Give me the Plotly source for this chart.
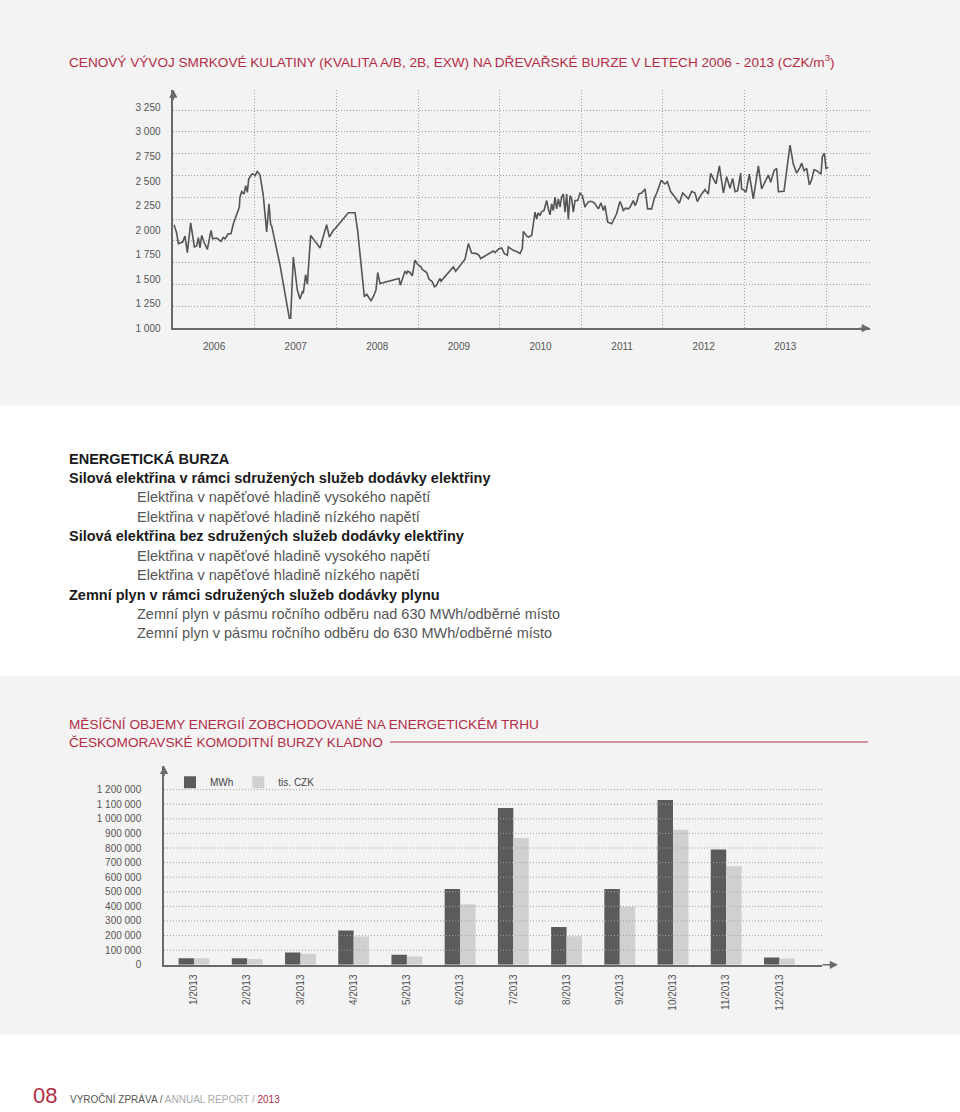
import plotly.graph_objects as go

W, H = 960, 1112

# ---------------- data: spruce roundwood price (CZK/m3) ----------------
wood_year = [
    2006.009, 2006.041, 2006.062, 2006.115, 2006.143, 2006.172, 2006.213, 2006.258, 2006.286, 2006.307,
    2006.327, 2006.348, 2006.376, 2006.417, 2006.462, 2006.483, 2006.532, 2006.560, 2006.585, 2006.613,
    2006.634, 2006.674, 2006.707, 2006.736, 2006.777, 2006.809, 2006.817, 2006.838, 2006.866, 2006.887,
    2006.907, 2006.924, 2006.960, 2006.981, 2007.001, 2007.030, 2007.063, 2007.103, 2007.144, 2007.173,
    2007.193, 2007.206, 2007.308, 2007.422, 2007.438, 2007.471, 2007.520, 2007.553, 2007.581, 2007.594,
    2007.622, 2007.643, 2007.683, 2007.798, 2007.879, 2007.912, 2007.961,
    2007.982, 2008.145, 2008.227, 2008.259, 2008.341, 2008.370, 2008.390, 2008.423, 2008.451, 2008.484,
    2008.505, 2008.533, 2008.766, 2008.782, 2008.839, 2008.860, 2008.872, 2008.901, 2008.929, 2008.962,
    2008.995, 2009.036, 2009.052, 2009.105, 2009.134, 2009.174, 2009.199, 2009.219, 2009.268, 2009.281,
    2009.432, 2009.460, 2009.575, 2009.616, 2009.656, 2009.718, 2009.746, 2009.767, 2009.922,
    2009.942, 2009.991, 2010.024, 2010.057, 2010.094, 2010.106, 2010.167, 2010.220, 2010.249, 2010.277,
    2010.290, 2010.331, 2010.351, 2010.392, 2010.433, 2010.453, 2010.473, 2010.494, 2010.514, 2010.543,
    2010.576, 2010.596, 2010.617, 2010.637, 2010.657, 2010.678, 2010.698, 2010.719, 2010.739, 2010.759,
    2010.780, 2010.800, 2010.821, 2010.841, 2010.862, 2010.882, 2010.902, 2010.923, 2010.956, 2010.984,
    2011.013, 2011.045, 2011.066, 2011.094, 2011.127, 2011.160, 2011.188, 2011.209, 2011.241, 2011.270,
    2011.290, 2011.323, 2011.372, 2011.405, 2011.433, 2011.454, 2011.474, 2011.495, 2011.515, 2011.544,
    2011.576, 2011.597, 2011.638, 2011.658, 2011.679, 2011.707, 2011.740, 2011.781, 2011.813, 2011.862,
    2011.895, 2011.924, 2011.952, 2011.977,
    2011.997, 2012.026, 2012.054, 2012.095, 2012.148, 2012.201, 2012.242, 2012.283, 2012.312, 2012.353,
    2012.393, 2012.422, 2012.475, 2012.516, 2012.557, 2012.585, 2012.618, 2012.651, 2012.692, 2012.741,
    2012.781, 2012.822, 2012.855, 2012.884, 2012.916, 2012.953, 2012.965, 2012.986, 2013.018, 2013.059,
    2013.108, 2013.170, 2013.210, 2013.263, 2013.292, 2013.321, 2013.362, 2013.394, 2013.415, 2013.484,
    2013.558, 2013.598, 2013.639, 2013.680, 2013.701, 2013.729, 2013.762, 2013.795, 2013.823, 2013.852,
    2013.884, 2013.938, 2013.954, 2013.979, 2013.999, 2014.027,
]
wood_price = [
    2055, 1970, 1862, 1878, 1939, 1770, 2074, 1828, 1838, 1922,
    1818, 1946, 1878, 1804, 1997, 1912, 1919, 1905, 1885, 1926,
    1912, 1963, 1963, 2064, 2166, 2233, 2335, 2392, 2368, 2453,
    2385, 2520, 2568, 2571, 2554, 2598, 2561, 2351, 1980, 2267,
    2054, 2041, 1642, 1102, 1102, 1726, 1389, 1297, 1372, 1365,
    1547, 1450, 1946, 1818, 2054, 1929, 1997,
    2014, 2176, 2176, 1997, 1321, 1345, 1321, 1281, 1321, 1389,
    1568, 1456, 1507, 1439, 1581, 1558, 1581, 1568, 1534, 1693,
    1649, 1625, 1598, 1568, 1500, 1473, 1423, 1429, 1507, 1480,
    1625, 1581, 1703, 1862, 1767, 1760, 1743, 1710, 1787,
    1770, 1811, 1818, 1760, 1743, 1828, 1794, 1777, 1760, 1811,
    1987, 1939, 1929, 1946, 2183, 2115, 2176, 2149, 2189, 2199,
    2301, 2216, 2156, 2267, 2199, 2335, 2216, 2318, 2233, 2335,
    2368, 2183, 2368, 2108, 2351, 2318, 2183, 2301, 2301, 2375,
    2351, 2233, 2267, 2291, 2291, 2277, 2233, 2216, 2277, 2199,
    2250, 2081, 2064, 2115, 2166, 2233, 2291, 2250, 2199, 2223,
    2216, 2233, 2301, 2250, 2284, 2368, 2378, 2419, 2216, 2216,
    2324, 2375, 2453, 2503,
    2493, 2470, 2493, 2392, 2335, 2274, 2378, 2345, 2318, 2395,
    2378, 2291, 2368, 2412, 2368, 2578, 2527, 2470, 2655, 2378,
    2544, 2426, 2527, 2392, 2402, 2581, 2419, 2412, 2385, 2571,
    2318, 2655, 2419, 2520, 2561, 2487, 2605, 2628, 2392, 2395,
    2865, 2672, 2581, 2639, 2682, 2605, 2628, 2460, 2514, 2615,
    2605, 2571, 2750, 2784, 2628, 2639,
]
year_labels = ["2006", "2007", "2008", "2009", "2010", "2011", "2012", "2013"]
price_ticks = [1000, 1250, 1500, 1750, 2000, 2250, 2500, 2750, 3000, 3250]

# ---------------- data: monthly volumes on the energy exchange ----------------
months = ["1/2013", "2/2013", "3/2013", "4/2013", "5/2013", "6/2013",
          "7/2013", "8/2013", "9/2013", "10/2013", "11/2013", "12/2013"]
mwh = [45000, 45000, 84000, 234000, 68000, 520000, 1075000, 259000, 520000, 1129000, 789000, 50000]
tis_czk = [45000, 40000, 75000, 193000, 57000, 414000, 868000, 196000, 397000, 925000, 675000, 43000]
volume_ticks = [0, 100000, 200000, 300000, 400000, 500000, 600000, 700000, 800000, 900000,
                1000000, 1100000, 1200000]

text_lines = [
    ("ENERGETICKÁ BURZA", True),
    ("Silová elektřina v rámci sdružených služeb dodávky elektřiny", True),
    ("Elektřina v napěťové hladině vysokého napětí", False),
    ("Elektřina v napěťové hladině nízkého napětí", False),
    ("Silová elektřina bez sdružených služeb dodávky elektřiny", True),
    ("Elektřina v napěťové hladině vysokého napětí", False),
    ("Elektřina v napěťové hladině nízkého napětí", False),
    ("Zemní plyn v rámci sdružených služeb dodávky plynu", True),
    ("Zemní plyn v pásmu ročního odběru nad 630 MWh/odběrné místo", False),
    ("Zemní plyn v pásmu ročního odběru do 630 MWh/odběrné místo", False),
]

# ---------------- styling ----------------
FONT = "Liberation Sans"
RED = "#b32d46"
GREY_BG = "#f3f3f3"
AXIS = "#6a6a6a"
GRID = "#a0a0a0"
TICK = "#555555"
DOT = "1px,2px"


def fx(px):
    return px / W


def fy(py):
    return 1 - py / H


fig = go.Figure()

fig.add_trace(go.Scatter(
    x=wood_year, y=wood_price, mode="lines",
    line=dict(color="#555555", width=1.6),
    xaxis="x", yaxis="y", showlegend=False, hoverinfo="skip"))

fig.add_trace(go.Bar(
    x=months, y=mwh, name="MWh", marker=dict(color="#5b5b5b", line=dict(width=0)),
    xaxis="x2", yaxis="y2"))
fig.add_trace(go.Bar(
    x=months, y=tis_czk, name="tis. CZK", marker=dict(color="#d0d0d0", line=dict(width=0)),
    xaxis="x2", yaxis="y2"))

px_per_year = 81.6
line_x_end = 2006 + (870 - 173.3) / px_per_year
units_per_px = 10.135
line_y_top = 1000 + (330 - 90) * units_per_px

fig.update_layout(
    width=W, height=H,
    margin=dict(l=0, r=0, t=0, b=0),
    paper_bgcolor="white", plot_bgcolor="rgba(0,0,0,0)",
    separators=", ",
    font=dict(family=FONT, color=TICK, size=10),
    barmode="group", bargap=0.42, bargroupgap=0,
    xaxis=dict(
        anchor="y",
        domain=[fx(173.3), fx(870)], range=[2006, line_x_end],
        tickmode="array", tickvals=[int(y) + 0.5 for y in year_labels], ticktext=year_labels,
        ticks="", showgrid=False, zeroline=False,
        showline=True, linecolor=AXIS, linewidth=1.5,
        tickfont=dict(size=10, color=TICK), ticklabelstandoff=8,
        minor=dict(tickmode="linear", tick0=2006, dtick=1, showgrid=True,
                   gridcolor=GRID, griddash=DOT, gridwidth=1, ticks=""),
        fixedrange=True,
    ),
    yaxis=dict(
        anchor="x",
        domain=[fy(330), fy(90)], range=[1000, line_y_top],
        tickmode="array", tickvals=price_ticks, tickformat=",d",
        ticks="", showgrid=False, zeroline=False,
        showline=True, linecolor=AXIS, linewidth=1.5,
        tickfont=dict(size=10, color=TICK), ticklabelstandoff=9,
        minor=dict(tickmode="linear", tick0=1000, dtick=222.3, showgrid=True,
                   gridcolor=GRID, griddash=DOT, gridwidth=1, ticks=""),
        fixedrange=True,
    ),
    xaxis2=dict(
        anchor="y2",
        domain=[fx(164), fx(822)], range=[-0.564, 11.80], type="category",
        ticks="", showgrid=False, zeroline=False,
        showline=True, linecolor=AXIS, linewidth=1.5,
        tickangle=-90, tickfont=dict(size=10, color=TICK), ticklabelstandoff=4,
        fixedrange=True,
    ),
    yaxis2=dict(
        anchor="x2",
        domain=[fy(970), fy(770)], range=[0, 1363000],
        tickmode="array", tickvals=volume_ticks, tickformat=",d",
        ticks="", showgrid=False, zeroline=False,
        showline=True, linecolor=AXIS, linewidth=1.5,
        tickfont=dict(size=10, color=TICK), ticklabelstandoff=19,
        fixedrange=True,
    ),
    legend=dict(
        orientation="h", x=fx(170), y=fy(772), xanchor="left", yanchor="top",
        bgcolor="rgba(0,0,0,0)", font=dict(size=10, color="#444"),
        itemwidth=30, traceorder="normal",
    ),
)

shapes = [
    dict(type="rect", xref="paper", yref="paper", x0=0, x1=1, y0=fy(408), y1=1,
         fillcolor=GREY_BG, line=dict(width=0), layer="below"),
    dict(type="rect", xref="paper", yref="paper", x0=0, x1=1, y0=fy(1040), y1=fy(680),
         fillcolor=GREY_BG, line=dict(width=0), layer="below"),
    dict(type="line", xref="paper", yref="paper", x0=fx(390), x1=fx(868), y0=fy(746), y1=fy(746),
         line=dict(color=RED, width=1)),
]
# dotted gridlines of the bar chart drawn over the bars
for v in volume_ticks[1:]:
    shapes.append(dict(type="line", xref="x2 domain", yref="y2", x0=0, x1=1, y0=v, y1=v,
                       line=dict(color=GRID, width=1, dash=DOT), layer="above"))
fig.update_layout(shapes=shapes)

ann = []
# axis arrows
ann.append(dict(xref="x domain", yref="y domain", x=0, y=1, ax=0, ay=12, showarrow=True,
                arrowhead=2, arrowsize=1.1, arrowwidth=1.5, arrowcolor=AXIS, text=""))
ann.append(dict(xref="x domain", yref="y domain", x=1, y=0, ax=-12, ay=0, showarrow=True,
                arrowhead=2, arrowsize=1.1, arrowwidth=1.5, arrowcolor=AXIS, text=""))
ann.append(dict(xref="x2 domain", yref="y2 domain", x=0, y=1, ax=0, ay=12, showarrow=True,
                arrowhead=2, arrowsize=1.1, arrowwidth=1.5, arrowcolor=AXIS, text=""))
ann.append(dict(xref="paper", yref="paper", x=fx(838), y=fy(970), ax=-17, ay=0, showarrow=True,
                arrowhead=2, arrowsize=1.1, arrowwidth=1.5, arrowcolor=AXIS, text=""))

# titles
ann.append(dict(xref="paper", yref="paper", x=fx(67), y=fy(61), xanchor="left", yanchor="middle",
                showarrow=False,
                text="CENOVÝ VÝVOJ SMRKOVÉ KULATINY (KVALITA A/B, 2B, EXW) NA DŘEVAŘSKÉ BURZE V LETECH 2006 - 2013 (CZK/m<sup>3</sup>)",
                font=dict(family=FONT, size=13.6, color=RED)))
ann.append(dict(xref="paper", yref="paper", x=fx(67), y=fy(728), xanchor="left", yanchor="middle",
                showarrow=False,
                text="MĚSÍČNÍ OBJEMY ENERGIÍ ZOBCHODOVANÉ NA ENERGETICKÉM TRHU",
                font=dict(family=FONT, size=13.6, color=RED)))
ann.append(dict(xref="paper", yref="paper", x=fx(67), y=fy(747), xanchor="left", yanchor="middle",
                showarrow=False,
                text="ČESKOMORAVSKÉ KOMODITNÍ BURZY KLADNO",
                font=dict(family=FONT, size=13.6, color=RED)))

# text block
line_y = [461, 481, 500, 520, 539, 559, 578, 598, 617, 636]
for (txt, bold), yy in zip(text_lines, line_y):
    ann.append(dict(xref="paper", yref="paper", x=fx(67 if bold else 135), y=fy(yy),
                    xanchor="left", yanchor="middle", showarrow=False,
                    text=f"<b>{txt}</b>" if bold else txt,
                    font=dict(family=FONT, size=14.5, color="#1a1a1a" if bold else "#555555")))

# footer
ann.append(dict(xref="paper", yref="paper", x=fx(31), y=fy(1101), xanchor="left", yanchor="middle",
                showarrow=False, text="08", font=dict(family=FONT, size=22, color=RED)))
ann.append(dict(xref="paper", yref="paper", x=fx(68), y=fy(1105), xanchor="left", yanchor="middle",
                showarrow=False,
                text=("<span style='color:#555555'>VYROČNÍ ZPRÁVA / </span>"
                      "<span style='color:#aaaaaa'>ANNUAL REPORT / </span>"
                      f"<span style='color:{RED}'>2013</span>"),
                font=dict(family=FONT, size=10)))

fig.update_layout(annotations=ann)

fig.write_html("out.html")
